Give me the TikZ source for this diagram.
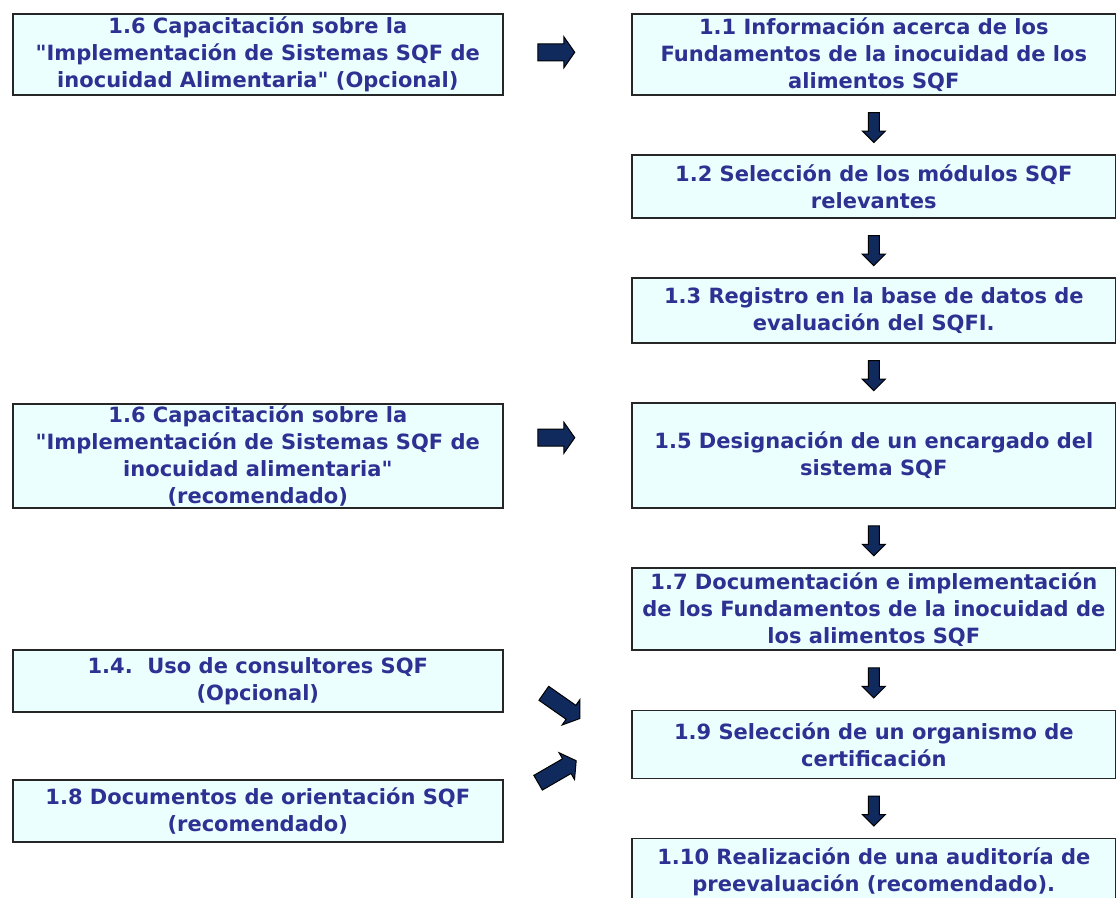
\documentclass[tikz,border=0pt]{standalone}
\usepackage{fontspec}
\setmainfont{DejaVu Sans}
\usepackage{xcolor}
\usetikzlibrary{positioning,shapes.arrows,calc}
\definecolor{textoazul}{HTML}{2E3192}
\definecolor{fondocaja}{HTML}{EBFFFF}
\definecolor{flechaazul}{HTML}{102A5E}
\tikzset{
    pasobox/.style={draw=black!85, line width=1.6pt, fill=fondocaja, text=textoazul,
        font=\fontsize{21}{27}\selectfont\bfseries, align=center, inner sep=1pt},
    izq/.style={pasobox, minimum width=490pt, anchor=north west},
    der/.style={pasobox, minimum width=484pt},
    flecha/.style={single arrow, draw=black, line width=1pt, fill=flechaazul,
        single arrow head indent=0pt},
    flechalado/.style={flecha, inner sep=8pt, minimum height=37pt, minimum width=30pt,
        single arrow head extend=7pt, single arrow tip angle=110},
    flechabajo/.style={flecha, inner sep=5pt, minimum height=30pt, minimum width=22pt,
        single arrow head extend=6pt, rotate=-90}
}

\begin{document}
\begin{tikzpicture}[x=1pt, y=-1pt, node distance=58.5pt]
            \clip (0,0) rectangle (1116,897);
            % columna derecha
            \node[der, minimum height=81pt, anchor=north west] (r1) at (631,13)
                {1.1 Información acerca de los\\Fundamentos de la inocuidad de los\\alimentos SQF};
            \node[der, minimum height=63pt, below=of r1] (r2)
                {1.2 Selección de los módulos SQF\\relevantes};
            \node[der, minimum height=65pt, below=of r2] (r3)
                {1.3 Registro en la base de datos de\\evaluación del SQFI.};
            \node[der, minimum height=105pt, below=of r3] (r4)
                {1.5 Designación de un encargado del\\sistema SQF};
            \node[der, minimum height=82pt, below=of r4] (r5)
                {1.7 Documentación e implementación\\de los Fundamentos de la inocuidad de\\los alimentos SQF};
            \node[der, minimum height=68pt, below=of r5] (r6)
                {1.9 Selección de un organismo de\\certificación};
            \node[der, minimum height=66pt, below=of r6] (r7)
                {1.10 Realización de una auditoría de\\preevaluación (recomendado).};
            % columna izquierda
            \node[izq, minimum height=81pt] (l1) at (12,13)
                {1.6 Capacitación sobre la\\\textquotedbl Implementación de Sistemas SQF de\\inocuidad Alimentaria\textquotedbl\ (Opcional)};
            \node[izq, minimum height=104pt] (l2) at (12,403)
                {1.6 Capacitación sobre la\\\textquotedbl Implementación de Sistemas SQF de\\inocuidad alimentaria\textquotedbl\\(recomendado)};
            \node[izq, minimum height=62pt] (l3) at (12,649)
                {1.4.\ \ Uso de consultores SQF\\(Opcional)};
            \node[izq, minimum height=62pt] (l4) at (12,779)
                {1.8 Documentos de orientación SQF\\(recomendado)};
            % flechas
            \node[flechalado, yshift=2pt] (f1) at ($(l1.east)!0.39!(r1.west)$) {};
            \node[flechalado, yshift=18pt] (f2) at ($(l2.east)!0.39!(r4.west)$) {};
            \node[flechalado, rotate=-35, minimum height=44pt, yshift=4pt] (f3) at ($(l3.east)!0.42!(r6.west)$) {};
            \node[flechalado, rotate=30, minimum height=44pt] (f4) at ($(l4.east)!0.40!(r6.west)+(0,-11)$) {};
            \foreach \a/\b in {r1/r2, r2/r3, r3/r4, r4/r5, r5/r6, r6/r7}
                \node[flechabajo, xshift=4pt] at ($(\a.south)!0.43!(\b.north)$) {};
        \end{tikzpicture}
\end{document}
